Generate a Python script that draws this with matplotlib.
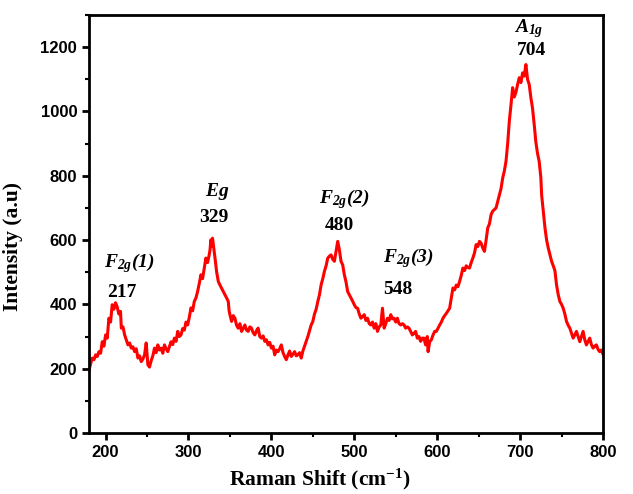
import matplotlib.pyplot as plt
from matplotlib.ticker import MultipleLocator

# Raman spectrum (shift in cm^-1, intensity in a.u.)
shift = [180, 182, 184, 186, 188, 190, 192, 194, 196, 198, 200, 202, 204, 206, 208, 210, 212, 214, 216, 218,
         219, 221, 223, 225, 227, 229, 231, 233, 235, 237, 239, 241, 243, 245, 247, 249, 251, 253, 255, 257,
         259, 261, 263, 265, 267, 269, 271, 273, 275, 277, 279, 281, 283, 285, 287, 289, 291, 293, 295, 297,
         299, 301, 303, 305, 307, 309, 311, 313, 315, 317, 319, 321, 323, 325, 326, 327, 328, 329, 330, 332,
         334, 336, 338, 340, 342, 344, 346, 348, 349, 350, 352, 354, 356, 358, 360, 362, 364, 366, 368, 370,
         372, 374, 376, 378, 380, 382, 384, 386, 388, 390, 392, 394, 396, 398, 400, 402, 404, 406, 408, 410,
         412, 414, 416, 418, 420, 422, 424, 426, 428, 430, 432, 434, 436, 438, 440, 442, 444, 446, 448, 450,
         452, 454, 456, 458, 460, 462, 464, 466, 468, 470, 472, 474, 476, 478, 480, 482, 484, 486, 488, 490,
         492, 494, 496, 498, 500, 502, 504, 506, 508, 510, 512, 514, 516, 518, 520, 522, 524, 526, 528, 530,
         532, 534, 536, 538, 540, 542, 544, 546, 548, 550, 552, 554, 556, 558, 560, 562, 564, 566, 568, 570,
         572, 574, 576, 578, 580, 582, 584, 586, 588, 589, 591, 593, 595, 597, 599, 601, 603, 605, 607, 609,
         611, 613, 615, 617, 619, 621, 623, 625, 627, 629, 631, 633, 635, 637, 639, 641, 643, 645, 647, 649,
         651, 653, 655, 657, 659, 661, 663, 665, 667, 669, 671, 673, 675, 677, 679, 681, 683, 685, 687, 689,
         691, 693, 695, 697, 699, 701, 703, 705, 707, 709, 711, 713, 715, 717, 719, 721, 723, 725, 726, 728,
         730, 732, 734, 736, 738, 740, 742, 744, 746, 748, 750, 752, 754, 756, 758, 760, 762, 764, 766, 768,
         770, 772, 774, 776, 778, 780, 782, 784, 786, 788, 790, 792, 794, 796, 798, 800]
intensity = [195, 215, 233, 228, 243, 238, 253, 248, 284, 270, 305, 295, 357, 345, 399, 385, 405, 392, 370, 378,
             326, 330, 305, 290, 274, 280, 264, 268, 253, 262, 233, 240, 222, 230, 243, 280, 212, 205, 225, 240,
             264, 250, 274, 258, 264, 248, 274, 262, 253, 268, 284, 275, 295, 285, 316, 300, 305, 325, 320, 345,
             336, 360, 389, 380, 409, 420, 440, 465, 492, 480, 513, 544, 530, 554, 570, 601, 580, 606, 586, 544,
             500, 471, 460, 450, 440, 430, 420, 409, 380, 368, 347, 365, 357, 335, 326, 340, 316, 325, 336, 320,
             316, 330, 326, 312, 305, 318, 326, 300, 295, 302, 285, 290, 274, 282, 264, 270, 243, 258, 253, 262,
             274, 250, 238, 228, 243, 255, 238, 245, 253, 240, 243, 250, 233, 255, 270, 285, 300, 318, 336, 347,
             370, 385, 409, 430, 461, 480, 503, 520, 544, 550, 554, 540, 534, 565, 596, 570, 534, 523, 492, 470,
             440, 430, 420, 410, 399, 390, 388, 370, 357, 362, 368, 350, 357, 340, 336, 345, 326, 340, 316, 330,
             336, 388, 326, 340, 357, 350, 368, 355, 357, 345, 357, 340, 336, 340, 336, 326, 330, 326, 316, 305,
             310, 316, 295, 300, 285, 295, 295, 274, 300, 253, 284, 290, 305, 316, 316, 326, 336, 345, 357, 365,
             372, 380, 388, 420, 451, 445, 460, 455, 471, 490, 513, 505, 520, 515, 513, 530, 544, 560, 586, 580,
             596, 590, 575, 565, 600, 638, 650, 679, 690, 695, 700, 720, 741, 760, 793, 815, 845, 900, 970, 1020,
             1074, 1045, 1060, 1084, 1105, 1090, 1120, 1110, 1146, 1100, 1084, 1043, 1010, 960, 905, 870, 845, 795, 740, 690,
             638, 600, 575, 555, 534, 520, 505, 460, 430, 409, 400, 388, 370, 347, 335, 326, 310, 295, 305, 316,
             300, 284, 300, 316, 290, 274, 285, 295, 275, 264, 270, 274, 260, 253, 258, 245]

# peak labels: text, x, y
peak_labels = [
    (r'$F_{2g}(1)$', 229, 530),
    ('217', 219, 437),
    (r'$Eg$', 335, 751),
    ('329', 331, 670),
    (r'$F_{2g}(2)$', 488, 729),
    ('480', 482, 645),
    (r'$F_{2g}(3)$', 565, 545),
    ('548', 552, 445),
    (r'$A_{1g}$', 710, 1258),
    ('704', 714, 1190),
]

plt.rcParams['mathtext.fontset'] = 'custom'
plt.rcParams['mathtext.rm'] = 'Liberation Serif:italic:bold'
plt.rcParams['mathtext.it'] = 'Liberation Serif:italic:bold'
plt.rcParams['mathtext.bf'] = 'Liberation Serif:bold'

fig = plt.figure(figsize=(6.33, 4.94), dpi=100)
ax = fig.add_axes([0.1406, 0.1235, 0.812, 0.8461])

ax.plot(shift, intensity, color='red', linewidth=2.2)

ax.set_xlim(180, 800)
ax.set_ylim(0, 1300)
ax.xaxis.set_major_locator(MultipleLocator(100))
ax.xaxis.set_minor_locator(MultipleLocator(50))
ax.yaxis.set_major_locator(MultipleLocator(200))
ax.yaxis.set_minor_locator(MultipleLocator(100))
ax.tick_params(which='major', direction='out', length=5, width=2, top=False, right=False)
ax.tick_params(which='minor', direction='out', length=3, width=1.5, top=False, right=False)
for spine in ax.spines.values():
    spine.set_linewidth(2)

for lbl in ax.get_xticklabels() + ax.get_yticklabels():
    lbl.set_fontfamily('Liberation Sans')
    lbl.set_fontweight('bold')
    lbl.set_fontsize(12)

ax.set_xlabel(r'Raman Shift (cm$^{\mathbf{-1}}$)', fontfamily='Liberation Serif', fontweight='bold',
              fontsize=15.5, va='center')
ax.xaxis.set_label_coords(0.449, -0.110)
ax.set_ylabel('Intensity (a.u)', fontfamily='Liberation Serif', fontweight='bold',
              fontsize=15.5, va='center')
ax.yaxis.set_label_coords(-0.1486, 0.447)

for text, x, y in peak_labels:
    ax.text(x, y, text, ha='center', va='center', fontsize=14,
            fontfamily='Liberation Serif', fontweight='bold')

fig.savefig('out.png', dpi=100)
